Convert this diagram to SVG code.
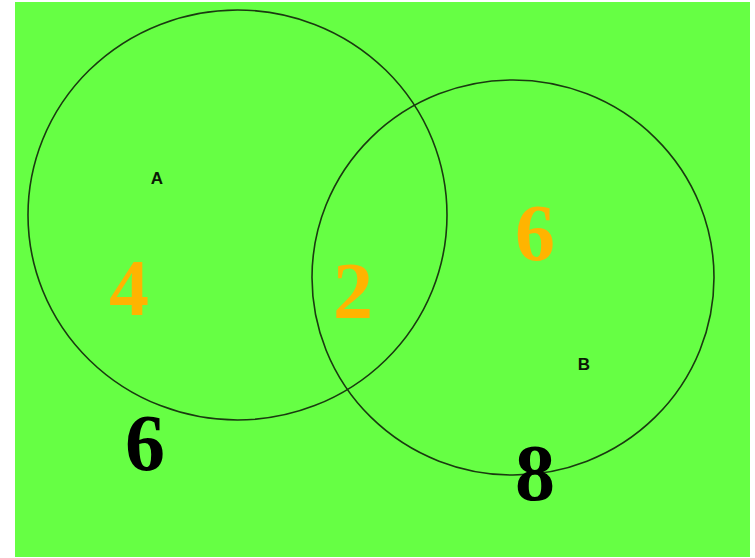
<svg xmlns="http://www.w3.org/2000/svg" width="755" height="558" viewBox="0 0 755 558">
<style>
.c{fill:none;stroke:#1a3a10;stroke-width:1.6}
.lbl{font-family:"Liberation Sans",Arial,sans-serif;font-weight:bold;font-size:17px;fill:#0a1a05;text-anchor:middle}
.num{font-family:"Liberation Serif","Times New Roman",serif;font-weight:bold;font-size:80px;text-anchor:middle}
.o{fill:#ffb400}
.k{fill:#000}
</style>
<rect x="0" y="0" width="755" height="558" fill="#fff"/>
<rect x="15" y="2" width="735" height="555" fill="#66ff44"/>
<g id="connectors"></g>
<g id="setA">
<ellipse class="c" cx="237.5" cy="215" rx="209.5" ry="205"/>
<text class="lbl" x="157" y="184">A</text>
</g>
<g id="setB">
<ellipse class="c" cx="513" cy="277.5" rx="201" ry="197.5"/>
<text class="lbl" x="584" y="370">B</text>
</g>
<g id="numbers">
<text class="num o" x="129" y="315">4</text>
<text class="num o" x="353" y="318">2</text>
<text class="num o" x="535" y="260">6</text>
<text class="num k" x="145" y="470">6</text>
<text class="num k" x="535" y="500">8</text>
</g>
</svg>
